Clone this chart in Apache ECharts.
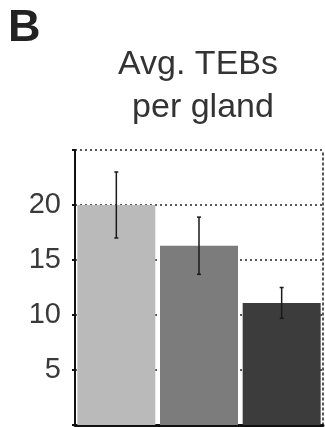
<!DOCTYPE html>
<html>
<head>
<meta charset="utf-8">
<script src="https://cdn.jsdelivr.net/npm/echarts@6/dist/echarts.min.js"></script>
<style>
  html, body { margin: 0; padding: 0; background: #ffffff; }
  #chart { width: 325px; height: 427px; }
</style>
</head>
<body>
<div id="chart"></div>
<script>
// Average TEBs per gland, three groups, mean ± error
const categories = ['G1', 'G2', 'G3'];
const means = [20.0, 16.3, 11.1];
const errors = [3.0, 2.6, 1.4];
const barColors = ['#bababa', '#7c7c7c', '#3c3c3c'];
const yTicks = [5, 10, 15, 20];

const chart = echarts.init(document.getElementById('chart'), null, { renderer: 'canvas' });

const FONT = '"Liberation Sans", Arial, sans-serif';

chart.setOption({
  animation: false,
  backgroundColor: '#ffffff',
  graphic: [
    { type: 'text', left: 8, top: 6,
      style: { text: 'B', font: 'bold 45px ' + FONT, fill: '#222' } },
    { type: 'text', x: 198, y: 65,
      style: { text: 'Avg. TEBs', font: '34px ' + FONT, fill: '#333',
               textAlign: 'center', textVerticalAlign: 'middle' } },
    { type: 'text', x: 203, y: 108,
      style: { text: 'per gland', font: '34px ' + FONT, fill: '#333',
               textAlign: 'center', textVerticalAlign: 'middle' } }
  ],
  grid: { left: 75, right: 2, top: 150, bottom: 2 },
  xAxis: {
    type: 'category',
    data: categories,
    axisLine: { show: true, lineStyle: { color: '#111', width: 3 } },
    axisTick: { show: false },
    axisLabel: { show: false }
  },
  yAxis: [
    {
      type: 'value',
      min: 0,
      max: 25,
      interval: 5,
      axisLine: { show: true, lineStyle: { color: '#111', width: 2 } },
      axisTick: { show: true, length: 3, lineStyle: { color: '#111', width: 2 } },
      axisLabel: {
        margin: 14,
        color: '#3a3a3a',
        fontSize: 29,
        fontFamily: FONT,
        formatter: v => (yTicks.indexOf(v) >= 0 ? String(v) : '')
      },
      splitLine: { show: true, lineStyle: { color: '#222', width: 1.5, type: [2, 3] } }
    },
    {
      type: 'value',
      position: 'right',
      min: 0,
      max: 25,
      interval: 5,
      axisLine: { show: true, lineStyle: { color: '#222', width: 1.5, type: [2, 3] } },
      axisTick: { show: false },
      axisLabel: { show: false },
      splitLine: { show: false }
    }
  ],
  series: [
    {
      type: 'bar',
      data: means.map((v, i) => ({ value: v, itemStyle: { color: barColors[i] } })),
      barWidth: 78,
      z: 2
    },
    {
      type: 'custom',
      z: 3,
      data: means.map((m, i) => [i, m - errors[i], m + errors[i]]),
      renderItem: function (params, api) {
        const x = api.value(0);
        const lo = api.coord([x, api.value(1)]);
        const hi = api.coord([x, api.value(2)]);
        const cap = 2;
        return {
          type: 'group',
          children: [
            { type: 'line', shape: { x1: hi[0], y1: hi[1], x2: lo[0], y2: lo[1] },
              style: { stroke: '#1a1a1a', lineWidth: 1.5 } },
            { type: 'line', shape: { x1: hi[0] - cap, y1: hi[1], x2: hi[0] + cap, y2: hi[1] },
              style: { stroke: '#1a1a1a', lineWidth: 1.5 } },
            { type: 'line', shape: { x1: lo[0] - cap, y1: lo[1], x2: lo[0] + cap, y2: lo[1] },
              style: { stroke: '#1a1a1a', lineWidth: 1.5 } }
          ]
        };
      }
    }
  ]
});
</script>
</body>
</html>
